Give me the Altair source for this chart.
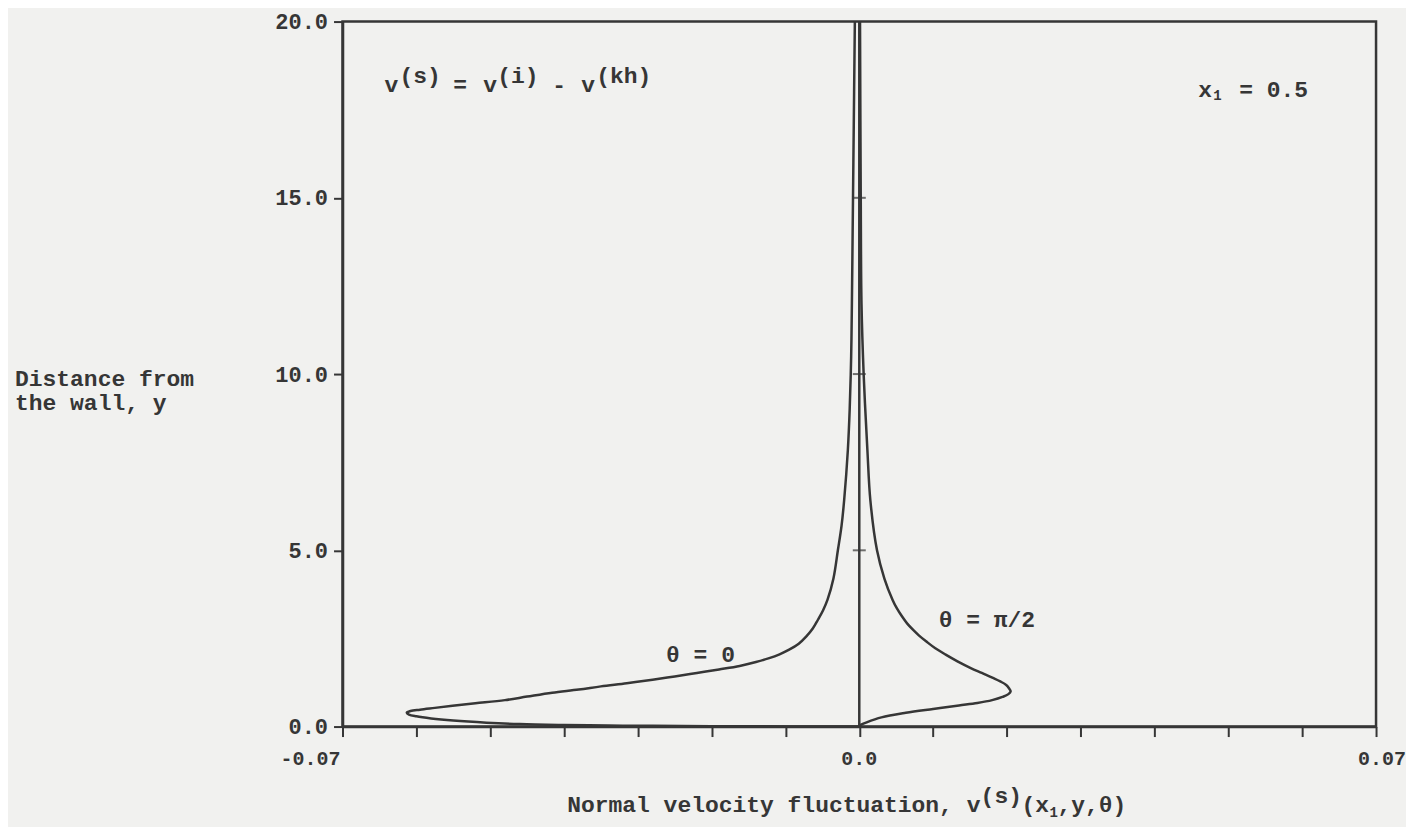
import altair as alt
import pandas as pd

# ---- data ----
theta0_x = [0.0, -0.010, -0.020, -0.028, -0.034, -0.040, -0.046, -0.0505, -0.055, -0.058, -0.0600,
            -0.0610, -0.0613, -0.0608, -0.0595, -0.0575, -0.0551, -0.0520, -0.0480, -0.0450, -0.0416,
            -0.0380, -0.0350, -0.0315, -0.0280, -0.0250, -0.0220, -0.0190, -0.0162, -0.0140, -0.0122,
            -0.0108, -0.0095, -0.0082, -0.0072, -0.0063, -0.0056, -0.0049, -0.0043, -0.0035, -0.0029,
            -0.0024, -0.00205, -0.00155, -0.0013, -0.0011, -0.0010, -0.0009, -0.0008, -0.0007, -0.0006]
theta0_y = [0.0, 0.005, 0.01, 0.02, 0.03, 0.045, 0.07, 0.11, 0.17, 0.23, 0.29,
            0.34, 0.39, 0.44, 0.48, 0.53, 0.59, 0.66, 0.75, 0.85, 0.96,
            1.05, 1.14, 1.23, 1.33, 1.42, 1.52, 1.62, 1.72, 1.83, 1.94,
            2.05, 2.18, 2.35, 2.55, 2.78, 3.03, 3.30, 3.60, 4.20, 5.00,
            5.70, 6.42, 7.84, 9.00, 10.5, 12.0, 14.0, 16.0, 18.0, 20.0]

theta90_x = [0.0, 0.0010, 0.0030, 0.0063, 0.0100, 0.0135, 0.0160, 0.0180, 0.0194, 0.0202, 0.0205,
             0.0203, 0.0199, 0.0191, 0.0181, 0.0166, 0.0151, 0.0133, 0.0117, 0.0103, 0.0091,
             0.0081, 0.0073, 0.0065, 0.0058, 0.0051, 0.0045, 0.0034, 0.0024, 0.0015, 0.0011,
             0.0006, 0.0003, 0.0002, 0.0001]
theta90_y = [0.03, 0.12, 0.26, 0.39, 0.50, 0.60, 0.67, 0.75, 0.84, 0.92, 1.00,
             1.08, 1.18, 1.28, 1.38, 1.52, 1.66, 1.85, 2.04, 2.22, 2.41,
             2.58, 2.74, 2.92, 3.12, 3.35, 3.60, 4.20, 5.00, 6.42, 7.84,
             9.96, 12.0, 15.0, 20.0]

x_ticks = [-0.07, -0.06, -0.05, -0.04, -0.03, -0.02, -0.01, 0.0,
           0.01, 0.02, 0.03, 0.04, 0.05, 0.06, 0.07]
y_ticks = [0, 5, 10, 15, 20]
zero_line_marks = [5, 10, 15]

INK = "#363636"
FONT = "Liberation Mono"
NB = "\u00a0"

rows = []
for i, (a, b) in enumerate(zip(theta0_x, theta0_y)):
    rows.append({"series": "theta0", "order": i, "x": a, "y": b})
for i, (a, b) in enumerate(zip(theta90_x, theta90_y)):
    rows.append({"series": "theta90", "order": i, "x": a, "y": b})
curves = pd.DataFrame(rows)

xs = alt.Scale(domain=[-0.07, 0.07], nice=False, zero=False)
ys = alt.Scale(domain=[0, 20], nice=False, zero=False)

lines = alt.Chart(curves).mark_line(color=INK, strokeWidth=2.5, clip=False,
                                    interpolate="catmull-rom").encode(
    x=alt.X("x:Q", scale=xs,
            axis=alt.Axis(values=x_ticks, labels=False, title=None, tickSize=10,
                          grid=False, domainWidth=2.5, tickWidth=2, domainColor=INK, tickColor=INK)),
    y=alt.Y("y:Q", scale=ys,
            axis=alt.Axis(values=y_ticks, format=".1f", title=None, tickSize=9, labelPadding=6,
                          grid=False, domainWidth=2.5, tickWidth=2, domainColor=INK, tickColor=INK,
                          labelFont=FONT, labelFontSize=22, labelFontWeight="bold", labelColor=INK)),
    detail="series:N",
    order="order:Q",
)

zero_rule = alt.Chart(pd.DataFrame({"v": [0.0]})).mark_rule(color=INK, strokeWidth=2.5).encode(
    x=alt.X("v:Q", scale=xs), y=alt.datum(0, scale=ys), y2=alt.datum(20)
)

zero_ticks = alt.Chart(pd.DataFrame({"y": zero_line_marks})).mark_tick(
    orient="horizontal", size=13, thickness=2, color=INK
).encode(x=alt.datum(0.0, scale=xs), y=alt.Y("y:Q", scale=ys))


def txt(s, x, y, size=23, weight="bold", align="left"):
    return alt.Chart(pd.DataFrame({"t": [s]})).mark_text(
        font=FONT, fontSize=size, fontWeight=weight, color=INK, align=align, baseline="alphabetic"
    ).encode(text="t:N", x=alt.value(x), y=alt.value(y))


# x tick labels
def xlabel(v, s, align, dx):
    return alt.Chart(pd.DataFrame({"v": [v], "t": [s]})).mark_text(
        font=FONT, fontSize=20, fontWeight="bold", color=INK, align=align, baseline="alphabetic", dx=dx
    ).encode(x=alt.X("v:Q", scale=xs), y=alt.value(744), text="t:N")


xl = [xlabel(-0.07, "-0.07", "right", -2), xlabel(0.0, "0.0", "center", 0), xlabel(0.07, "0.07", "center", 6)]

annotations = [
    # equation  v(s) = v(i) - v(kh)
    txt("v", 42, 71),
    txt("(s)", 57, 62),
    txt("=", 111, 71),
    txt("v", 141, 71),
    txt("(i)", 155, 62),
    txt("-", 210, 71),
    txt("v", 239, 71),
    txt("(kh)", 254, 62),
    # x1 = 0.5
    txt("x", 857, 76),
    txt("1", 872, 79, size=14),
    txt("=" + NB + "0.5", 898, 76),
    # curve labels
    txt("θ = 0", 324, 641),
    txt("θ = π/2", 597, 606),
    # y title
    txt("Distance from", -328, 365),
    txt("the wall, y", -328, 389),
    # x title
    txt("Normal velocity fluctuation, v", 225, 792),
    txt("(s)", 639, 783),
    txt("(x", 680, 792),
    txt("1", 708, 797, size=14),
    txt(",y,θ)", 716, 792),
]

chart = alt.layer(lines, zero_rule, zero_ticks, *xl, *annotations).properties(
    width=1035,
    height=706,
    padding={"left": 335, "top": 13, "right": 30, "bottom": 100},
    autosize=alt.AutoSizeParams(type="none"),
    background="#f1f1ef",
).configure_view(stroke=INK, strokeWidth=2.5)

chart.save("out.html", embed_options={"renderer": "svg", "actions": False})
